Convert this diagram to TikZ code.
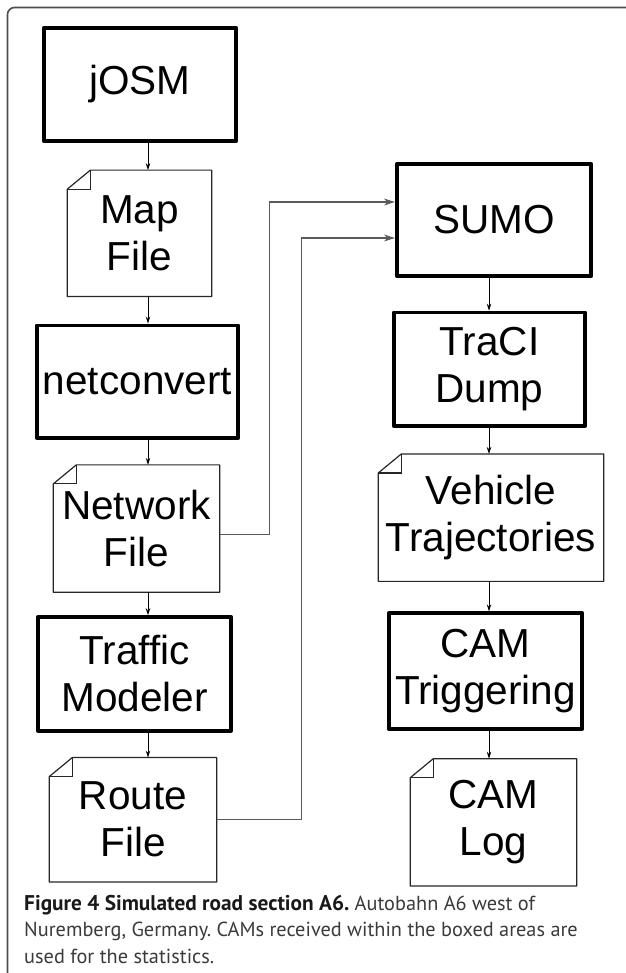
\documentclass[tikz,border=0pt]{standalone}
\usepackage{fontspec}
\setmainfont{Liberation Sans}
\newfontfamily\capfont{PT Sans}
\usetikzlibrary{positioning,arrows.meta}
\definecolor{framegray}{HTML}{4D4D4D}
\definecolor{linegray}{HTML}{5A5A5A}
\definecolor{capgray}{HTML}{3A3A3A}

\begin{document}
\begin{tikzpicture}[x=1pt,y=-1pt,
    tool/.style={draw,line width=3.8pt,line join=round,align=center,inner sep=0pt,
      font=\fontsize{40.5}{47}\selectfont},
    doc/.style={align=center,inner sep=0pt,font=\fontsize{40.5}{47}\selectfont,
      execute at begin node=\rule{0pt}{40pt}},
    flow/.style={-{Stealth[length=7pt,width=4.5pt]},line width=0.9pt},
    feed/.style={-{Stealth[length=11pt,width=7pt]},line width=1.4pt,draw=linegray}]
  \useasboundingbox (0,0) rectangle (625,973);
  \draw[framegray,line width=1.6pt,rounded corners=7pt] (7.5,985) -- (7.5,7.5) -- (640,7.5);

  % left column
  \node[tool,minimum width=192.5pt,minimum height=113.5pt] (josm) at (140,84.5) {jOSM};
  \node[doc,minimum width=144pt,minimum height=126pt,below=27pt of josm,xshift=-0.5pt] (map) {Map\\File};
  \node[tool,minimum width=201.5pt,minimum height=112.5pt,below=27pt of map,xshift=-2pt] (conv) {netconvert};
  \node[doc,minimum width=166pt,minimum height=127pt,below=25pt of conv,xshift=-1pt] (netfile) {Network\\File};
  \node[tool,minimum width=193.5pt,minimum height=113.5pt,below=23pt of netfile,xshift=-2pt] (traffic) {Traffic\\Modeler};
  \node[doc,minimum width=167pt,minimum height=124pt,below=25pt of traffic,xshift=-1.5pt] (route) {Route\\File};

  % right column
  \node[tool,minimum width=194.5pt,minimum height=112.5pt] (sumo) at (494,220) {SUMO};
  \node[tool,minimum width=191.5pt,minimum height=113.5pt,below=32.5pt of sumo,xshift=-4.5pt] (traci) {TraCI\\Dump};
  \node[doc,minimum width=225pt,minimum height=127pt,below=26pt of traci,xshift=1.5pt] (veh) {Vehicle\\Trajectories};
  \node[tool,minimum width=193.5pt,minimum height=115.5pt,below=30pt of veh,xshift=-5.5pt] (camtrig) {CAM\\Triggering};
  \node[doc,minimum width=166pt,minimum height=127pt,below=28pt of camtrig,xshift=8pt] (camlog) {CAM\\Log};

  % file outlines with folded corner
  \foreach \f in {map,netfile,route,veh,camlog} {
    \draw[line width=1.2pt,draw=black!85,line join=round] (\f.north west) ++(23,0) -- (\f.north east)
      -- (\f.south east) -- (\f.south west) -- ([yshift=-19pt]\f.north west) -- cycle;
    \draw[line width=1.2pt,draw=black!85] ([yshift=-19pt]\f.north west) -- ++(23,0) -- ++(0,-19);
  }

  \coordinate (lcol) at (148,0);
  \coordinate (rcol) at (489,0);
  \draw[flow] (josm.south -| lcol) -- (map.north -| lcol);
  \draw[flow] (map.south -| lcol) -- (conv.north -| lcol);
  \draw[flow] (conv.south -| lcol) -- (netfile.north -| lcol);
  \draw[flow] (netfile.south -| lcol) -- (traffic.north -| lcol);
  \draw[flow] (traffic.south -| lcol) -- (route.north -| lcol);
  \draw[flow] (sumo.south -| rcol) -- (traci.north -| rcol);
  \draw[flow] (traci.south -| rcol) -- (veh.north -| rcol);
  \draw[flow] (veh.south -| rcol) -- (camtrig.north -| rcol);
  \draw[flow] (camtrig.south -| rcol) -- (camlog.north -| rcol);

  % inputs of SUMO
  \draw[feed] ([yshift=-6pt]netfile.east) -- ++(50,0) |- ([yshift=18pt]sumo.west);
  \draw[feed] (route.east) -- ++(85,0) |- ([yshift=-18pt]sumo.west);

  \node[anchor=north west,inner sep=0pt,align=left,text=capgray,
    font=\capfont\fontsize{20.3}{26.5}\selectfont\frenchspacing] (caption) at (24,895)
    {\textcolor{black!90}{\fontsize{21.3}{26.5}\selectfont\bfseries Figure 4 Simulated road section A6.}
     Autobahn A6 west of\\
     Nuremberg, Germany. CAMs received within the boxed areas are\\
     used for the statistics.};
\end{tikzpicture}
\end{document}
